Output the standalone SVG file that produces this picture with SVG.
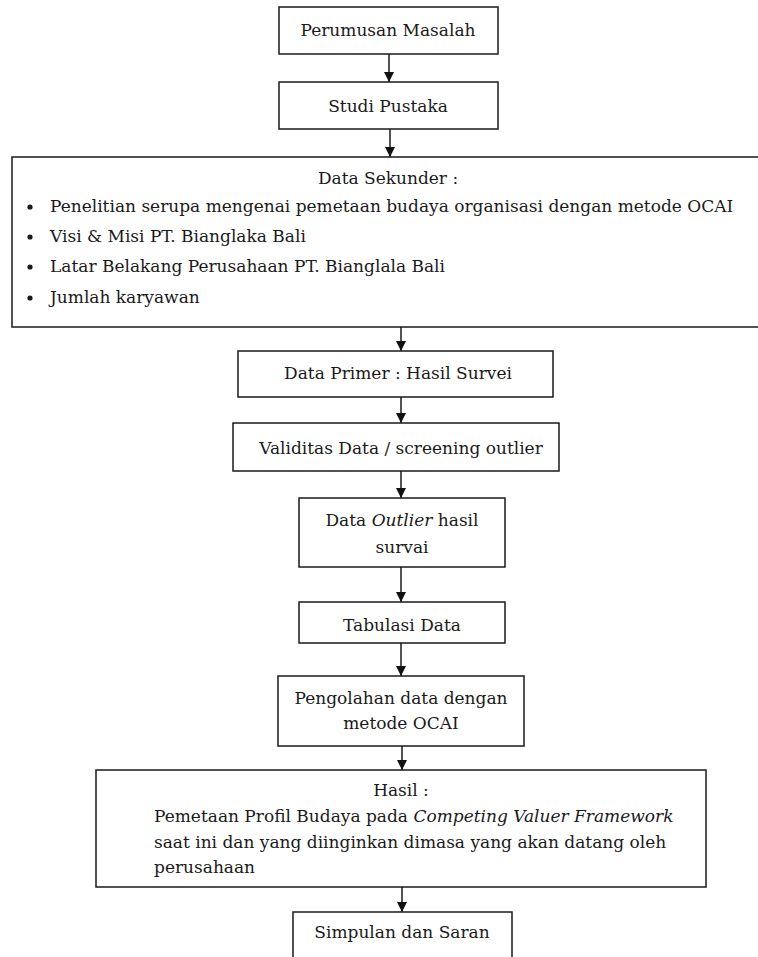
<svg xmlns="http://www.w3.org/2000/svg" width="758" height="957" viewBox="0 0 758 957">
<defs>
<marker id="ah" markerWidth="10" markerHeight="10" refX="10" refY="5" orient="auto" markerUnits="userSpaceOnUse" viewBox="0 0 10 10">
<path d="M0,0 L10,5 L0,10 Z" fill="#111"/>
</marker>
</defs>
<style>
.box{fill:#fff;stroke:#1a1a1a;stroke-width:1.5}
.t{font-family:"DejaVu Serif","Liberation Serif",serif;font-size:17px;fill:#1a1a1a}
.c{text-anchor:middle}
.con{stroke:#1a1a1a;stroke-width:1.5;fill:none;marker-end:url(#ah)}
</style>
<rect width="758" height="957" fill="#fff"/>
<g id="connectors">
<line class="con" x1="389" y1="54" x2="389" y2="82"/>
<line class="con" x1="390" y1="129" x2="390" y2="157"/>
<line class="con" x1="401" y1="327" x2="401" y2="351"/>
<line class="con" x1="401" y1="397" x2="401" y2="423"/>
<line class="con" x1="401" y1="471" x2="401" y2="498"/>
<line class="con" x1="401" y1="567" x2="401" y2="602"/>
<line class="con" x1="401" y1="643" x2="401" y2="676"/>
<line class="con" x1="402" y1="746" x2="402" y2="770"/>
<line class="con" x1="402" y1="887" x2="402" y2="912"/>
</g>
<g id="perumusan">
<rect class="box" x="279" y="7" width="219" height="47"/>
<text class="t c" x="388" y="36">Perumusan Masalah</text>
</g>
<g id="studi">
<rect class="box" x="279" y="82" width="219" height="47"/>
<text class="t c" x="388" y="112">Studi Pustaka</text>
</g>
<g id="sekunder">
<rect class="box" x="12" y="157" width="760" height="170"/>
<text class="t c" x="388" y="184">Data Sekunder :</text>
<circle cx="30" cy="207" r="2.6" fill="#1a1a1a"/>
<circle cx="30" cy="237" r="2.6" fill="#1a1a1a"/>
<circle cx="30" cy="267" r="2.6" fill="#1a1a1a"/>
<circle cx="30" cy="298" r="2.6" fill="#1a1a1a"/>
<text class="t" x="50" y="212">Penelitian serupa mengenai pemetaan budaya organisasi dengan metode OCAI</text>
<text class="t" x="50" y="242">Visi &amp; Misi PT. Bianglaka Bali</text>
<text class="t" x="50" y="272">Latar Belakang Perusahaan PT. Bianglala Bali</text>
<text class="t" x="50" y="303">Jumlah karyawan</text>
</g>
<g id="primer">
<rect class="box" x="238" y="351" width="315" height="46"/>
<text class="t c" x="398" y="379">Data Primer : Hasil Survei</text>
</g>
<g id="validitas">
<rect class="box" x="233" y="423" width="326" height="48"/>
<text class="t c" x="401" y="454">Validitas Data / screening outlier</text>
</g>
<g id="outlier">
<rect class="box" x="299" y="498" width="206" height="69"/>
<text class="t c" x="402" y="526">Data <tspan font-style="italic">Outlier</tspan> hasil</text>
<text class="t c" x="402" y="553">survai</text>
</g>
<g id="tabulasi">
<rect class="box" x="299" y="602" width="206" height="41"/>
<text class="t c" x="402" y="631">Tabulasi Data</text>
</g>
<g id="pengolahan">
<rect class="box" x="278" y="676" width="246" height="70"/>
<text class="t c" x="401" y="704">Pengolahan data dengan</text>
<text class="t c" x="401" y="729">metode OCAI</text>
</g>
<g id="hasil">
<rect class="box" x="96" y="770" width="610" height="117"/>
<text class="t c" x="401" y="796">Hasil :</text>
<text class="t" x="154" y="822">Pemetaan Profil Budaya pada <tspan font-style="italic">Competing Valuer Framework</tspan></text>
<text class="t" x="154" y="848">saat ini dan yang diinginkan dimasa yang akan datang oleh</text>
<text class="t" x="154" y="873">perusahaan</text>
</g>
<g id="simpulan">
<rect class="box" x="293" y="912" width="219" height="60"/>
<text class="t c" x="402" y="938">Simpulan dan Saran</text>
</g>
</svg>
